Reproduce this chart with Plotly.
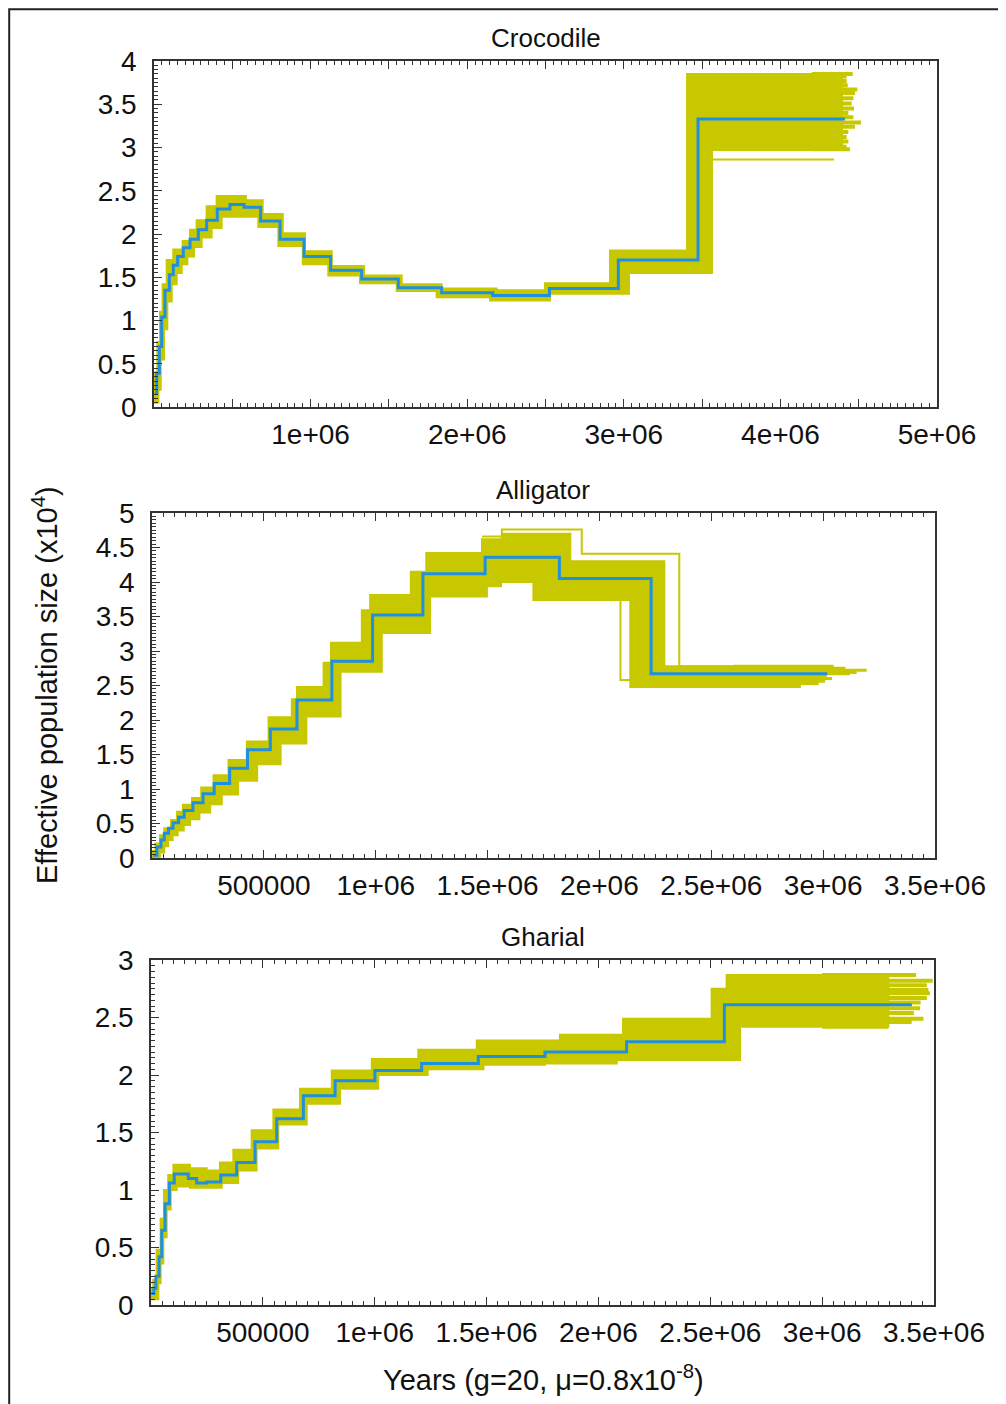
import plotly.graph_objects as go

W, H = 1006, 1404
OX, OY = 8, 8  # page body margin offset of the figure in the browser
YELLOW = "#C8C800"
BLUE = "#1F8FE0"
FONT = "Liberation Sans, Arial, sans-serif"

# ---------------- Crocodile ----------------
croc_years = [6000, 17000, 34000, 49000, 70000, 98000, 123000, 151000, 187000, 230000, 283000, 336000,
              404000, 485000, 575000, 681000, 805000, 958000, 1128000, 1326000, 1560000, 1837000,
              2163000, 2525000, 2965000, 3474000, 4412000]
croc_ne = [0.16, 0.39, 0.70, 1.04, 1.35, 1.53, 1.64, 1.74, 1.84, 1.94, 2.05, 2.16,
           2.29, 2.34, 2.31, 2.15, 1.94, 1.74, 1.58, 1.48, 1.38, 1.32,
           1.29, 1.37, 1.70, 3.33, 3.33]
croc_up_years = [0, 6000, 21000, 38000, 55000, 81000, 123000, 183000, 230000, 272000, 336000, 400000,
                 587000, 694000, 822000, 964000, 1135000, 1341000, 1582000, 1837000, 2188000, 2497000,
                 2912000, 3404000, 4400000]
croc_up_ne = [0.25, 0.40, 0.75, 1.10, 1.42, 1.70, 1.82, 1.92, 2.05, 2.16, 2.32, 2.44,
              2.39, 2.23, 2.01, 1.80, 1.63, 1.52, 1.42, 1.37, 1.35, 1.43,
              1.81, 3.85, 3.85]
croc_lo_years = [0, 28000, 43000, 64000, 85000, 113000, 145000, 177000, 213000, 255000, 304000, 368000,
                 432000, 666000, 794000, 950000, 1113000, 1315000, 1550000, 1805000, 2146000, 2529000,
                 3033000, 3563000, 4400000]
croc_lo_ne = [0.05, 0.20, 0.55, 0.90, 1.22, 1.42, 1.55, 1.65, 1.74, 1.85, 1.96, 2.07,
              2.20, 2.08, 1.86, 1.65, 1.52, 1.43, 1.34, 1.27, 1.23, 1.31,
              1.55, 2.97, 2.97]
croc_tail_ne = [3.85, 3.82, 3.77, 3.72, 3.67, 3.63, 3.57, 3.51, 3.45, 3.40, 3.35, 3.29,
                3.24, 3.18, 3.12, 3.07, 3.01, 2.98]
croc_tail_end = [4462000, 4423000, 4423000, 4430000, 4491000, 4476000, 4466000, 4455000, 4470000,
                 4434000, 4466000, 4515000, 4476000, 4434000, 4423000, 4434000, 4423000, 4444000]
croc_extra_years = [3561000, 4342000]
croc_extra_ne = [2.86, 2.86]

# ---------------- Alligator ----------------
alli_years = [4500, 22000, 40000, 55000, 74000, 94000, 119000, 144000, 183000, 228000, 278000, 347000,
              427000, 529000, 648000, 804000, 986000, 1211000, 1489000, 1821000, 2231000, 3019000]
alli_ne = [0.04, 0.16, 0.26, 0.36, 0.43, 0.51, 0.59, 0.69, 0.80, 0.93, 1.08, 1.30,
           1.57, 1.87, 2.29, 2.85, 3.52, 4.12, 4.36, 4.05, 2.67, 2.67]
alli_up_years = [0, 15000, 36000, 55000, 85000, 112000, 138000, 179000, 220000, 275000, 342000, 424000,
                 521000, 625000, 648000, 767000, 800000, 938000, 975000, 1157000, 1226000, 1475000,
                 1564000, 1870000, 2290000, 2900000]
alli_up_ne = [0.10, 0.21, 0.33, 0.43, 0.55, 0.67, 0.77, 0.87, 1.02, 1.20, 1.42, 1.69,
              2.04, 2.30, 2.48, 2.83, 3.12, 3.59, 3.81, 4.15, 4.42, 4.62,
              4.70, 4.30, 2.78, 2.78]
alli_lo_years = [0, 35000, 55000, 72000, 92000, 115000, 142000, 170000, 212000, 260000, 312000, 385000,
                 470000, 575000, 690000, 843000, 1027000, 1243000, 1497000, 1560000, 1705000, 2138000,
                 2900000]
alli_lo_ne = [0.00, 0.08, 0.17, 0.26, 0.33, 0.40, 0.48, 0.56, 0.66, 0.78, 0.92, 1.12,
              1.36, 1.66, 2.05, 2.70, 3.26, 3.79, 3.94, 4.00, 3.74, 2.48,
              2.48]
alli_out1_years = [1475000, 1564000, 1921000, 2357000, 3046000]
alli_out1_ne = [4.66, 4.76, 4.41, 2.78, 2.78]
alli_out2_years = [1705000, 2094000, 2210000]
alli_out2_ne = [3.74, 2.58, 2.58]
alli_tail_ne = [2.78, 2.75, 2.72, 2.69, 2.67, 2.63, 2.60, 2.56, 2.53, 2.51]
alli_tail_end = [3046000, 3100000, 3195000, 3150000, 3120000, 3016000, 3040000, 3009000, 2980000, 2897000]

# ---------------- Gharial ----------------
ghar_years = [3000, 13000, 22000, 36000, 48000, 63000, 82000, 104000, 167000, 204000, 249000, 312000,
              383000, 465000, 562000, 681000, 823000, 1001000, 1210000, 1463000, 1761000, 2126000,
              2563000, 3401000]
ghar_ne = [0.10, 0.145, 0.25, 0.42, 0.65, 0.88, 1.06, 1.14, 1.10, 1.06, 1.07, 1.13,
           1.24, 1.42, 1.62, 1.82, 1.95, 2.04, 2.10, 2.16, 2.20, 2.29,
           2.61, 2.61]
ghar_up_years = [0, 10000, 25000, 43000, 58000, 77000, 100000, 174000, 249000, 308000, 368000, 450000,
                 547000, 666000, 808000, 987000, 1195000, 1456000, 1828000, 2110000, 2506000, 2573000,
                 3300000]
ghar_up_ne = [0.14, 0.22, 0.48, 0.75, 1.00, 1.13, 1.22, 1.19, 1.17, 1.24, 1.35, 1.52,
              1.70, 1.88, 2.04, 2.14, 2.22, 2.30, 2.35, 2.49, 2.75, 2.87,
              2.87]
ghar_lo_years = [0, 33000, 43000, 55000, 70000, 88000, 115000, 174000, 316000, 390000, 472000, 569000,
                 696000, 845000, 1016000, 1237000, 1486000, 1761000, 2082000, 2633000, 3300000]
ghar_lo_ne = [0.05, 0.19, 0.36, 0.59, 0.83, 1.00, 1.03, 1.02, 1.06, 1.17, 1.36, 1.57,
              1.75, 1.88, 2.00, 2.05, 2.09, 2.10, 2.13, 2.42, 2.42]
ghar_tail_ne = [2.87, 2.82, 2.78, 2.74, 2.71, 2.67, 2.63, 2.58, 2.54, 2.49, 2.46, 2.42]
ghar_tail_end = [3420000, 3494000, 3468000, 3475000, 3482000, 3468000, 3440000, 3438000, 3410000,
                 3453000, 3400000, 3296000]

# ---------------- axes / tick labels ----------------
croc_xticks = [1000000, 2000000, 3000000, 4000000, 5000000]
croc_xlabels = ["1e+06", "2e+06", "3e+06", "4e+06", "5e+06"]
croc_xhalf = [500000, 1500000, 2500000, 3500000, 4500000]
low_xticks = [500000, 1000000, 1500000, 2000000, 2500000, 3000000, 3500000]
low_xlabels = ["500000", "1e+06", "1.5e+06", "2e+06", "2.5e+06", "3e+06", "3.5e+06"]
croc_yticks = [0, 0.5, 1, 1.5, 2, 2.5, 3, 3.5, 4]
croc_ylabels = ["0", "0.5", "1", "1.5", "2", "2.5", "3", "3.5", "4"]
alli_yticks = [0, 0.5, 1, 1.5, 2, 2.5, 3, 3.5, 4, 4.5, 5]
alli_ylabels = ["0", "0.5", "1", "1.5", "2", "2.5", "3", "3.5", "4", "4.5", "5"]
ghar_yticks = [0, 0.5, 1, 1.5, 2, 2.5, 3]
ghar_ylabels = ["0", "0.5", "1", "1.5", "2", "2.5", "3"]


def px_x(v):
    return (v - OX) / W


def px_y(v):
    return 1 - (v - OY) / H


panels = [
    dict(name="Crocodile", years=croc_years, ne=croc_ne, up=(croc_up_years, croc_up_ne),
         lo=(croc_lo_years, croc_lo_ne), tail=(croc_tail_ne, croc_tail_end, 4200000, 4),
         extra=[(croc_extra_years, croc_extra_ne)],
         xr=[0, 5000000], yr=[0, 4], xt=(croc_xticks, croc_xlabels), yt=(croc_yticks, croc_ylabels),
         px=(154, 937), py=(61, 407), title_xy=(546, 38)),
    dict(name="Alligator", years=alli_years, ne=alli_ne, up=(alli_up_years, alli_up_ne),
         lo=(alli_lo_years, alli_lo_ne), tail=(alli_tail_ne, alli_tail_end, 2600000, 3),
         extra=[(alli_out1_years, alli_out1_ne), (alli_out2_years, alli_out2_ne)],
         xr=[0, 3500000], yr=[0, 5], xt=(low_xticks, low_xlabels), yt=(alli_yticks, alli_ylabels),
         px=(152, 935), py=(513, 858), title_xy=(543, 490)),
    dict(name="Gharial", years=ghar_years, ne=ghar_ne, up=(ghar_up_years, ghar_up_ne),
         lo=(ghar_lo_years, ghar_lo_ne), tail=(ghar_tail_ne, ghar_tail_end, 3000000, 4),
         extra=[],
         xr=[0, 3500000], yr=[0, 3], xt=(low_xticks, low_xlabels), yt=(ghar_yticks, ghar_ylabels),
         px=(151, 934), py=(960, 1305), title_xy=(543, 937)),
]

fig = go.Figure()
layout = dict(width=W, height=H, autosize=False,
              margin=dict(l=0, r=0, t=0, b=0, pad=0, autoexpand=False),
              paper_bgcolor="white", plot_bgcolor="white", showlegend=False,
              font=dict(family=FONT, color="#111111"))
annotations = []

axis_common = dict(showline=True, linecolor="#333333", linewidth=1.6, showgrid=False, zeroline=False,
                   ticks="inside", ticklen=8, tickwidth=1.3, tickcolor="#333333", automargin=False,
                   tickfont=dict(family=FONT, size=28, color="#111111"))

for i, p in enumerate(panels):
    n = "" if i == 0 else str(i + 1)
    xa, ya = "x" + n, "y" + n
    # yellow band: lower edge then upper edge filled to it
    fig.add_trace(go.Scatter(x=p["lo"][0], y=p["lo"][1], xaxis=xa, yaxis=ya, mode="lines",
                             line=dict(color=YELLOW, width=2, shape="hv"), hoverinfo="skip"))
    fig.add_trace(go.Scatter(x=p["up"][0], y=p["up"][1], xaxis=xa, yaxis=ya, mode="lines",
                             line=dict(color=YELLOW, width=2, shape="hv"), fill="tonexty",
                             fillcolor=YELLOW, hoverinfo="skip"))
    for ex_x, ex_y in p["extra"]:
        fig.add_trace(go.Scatter(x=ex_x, y=ex_y, xaxis=xa, yaxis=ya, mode="lines",
                                 line=dict(color=YELLOW, width=2, shape="hv"), hoverinfo="skip"))
    t_ne, t_end, t_start, t_w = p["tail"]
    for lvl, end in zip(t_ne, t_end):
        fig.add_trace(go.Scatter(x=[t_start, end], y=[lvl, lvl], xaxis=xa, yaxis=ya, mode="lines",
                                 line=dict(color=YELLOW, width=t_w), hoverinfo="skip"))
    fig.add_trace(go.Scatter(x=p["years"], y=p["ne"], xaxis=xa, yaxis=ya, mode="lines",
                             line=dict(color=BLUE, width=3, shape="hv"), name=p["name"]))

    x0, x1 = p["px"]
    y0, y1 = p["py"]
    layout["xaxis" + n] = dict(axis_common, domain=[px_x(x0), px_x(x1)], anchor=ya, range=p["xr"],
                               tickvals=p["xt"][0], ticktext=p["xt"][1], mirror="allticks",
                               ticklabelstandoff=2,
                               minor=dict(ticks="inside", ticklen=4, dtick=50000, tick0=0,
                                          tickcolor="#333333", tickwidth=1))
    layout["yaxis" + n] = dict(axis_common, domain=[px_y(y1), px_y(y0)], anchor=xa, range=p["yr"],
                               tickvals=p["yt"][0], ticktext=p["yt"][1], mirror=True,
                               ticklabelstandoff=10,
                               minor=dict(ticks="inside", ticklen=4, dtick=0.05, tick0=0,
                                          tickcolor="#333333", tickwidth=1))
    tx, ty = p["title_xy"]
    annotations.append(dict(text=p["name"], x=px_x(tx), y=px_y(ty), xref="paper", yref="paper",
                            showarrow=False, xanchor="center", yanchor="middle",
                            font=dict(family=FONT, size=26, color="#111111")))

# extra unlabelled major ticks at the half-million marks on the top panel
layout["xaxis4"] = dict(overlaying="x", anchor="y", range=[0, 5000000], tickvals=croc_xhalf,
                        showticklabels=False, ticks="inside", ticklen=8, tickwidth=1.3,
                        tickcolor="#333333", mirror="allticks", showline=False, showgrid=False,
                        zeroline=False, automargin=False)
fig.add_trace(go.Scatter(x=[None], y=[None], xaxis="x4", yaxis="y", mode="lines", hoverinfo="skip"))

annotations.append(dict(text="Effective population size (x10<sup>4</sup>)", x=px_x(45), y=px_y(685),
                        xref="paper", yref="paper", showarrow=False, textangle=-90,
                        xanchor="center", yanchor="middle",
                        font=dict(family=FONT, size=29, color="#111111")))
annotations.append(dict(text="Years (g=20, \u03bc=0.8x10<sup>-8</sup>)", x=px_x(543), y=px_y(1378),
                        xref="paper", yref="paper", showarrow=False,
                        xanchor="center", yanchor="middle",
                        font=dict(family=FONT, size=29, color="#111111")))
layout["annotations"] = annotations
layout["shapes"] = [dict(type="rect", xref="paper", yref="paper", x0=1.2 / W, y0=-0.02, x1=1.02,
                         y1=1 - 1.2 / H, line=dict(color="#222222", width=2))]

fig.update_layout(**layout)
fig.write_html("out.html")
